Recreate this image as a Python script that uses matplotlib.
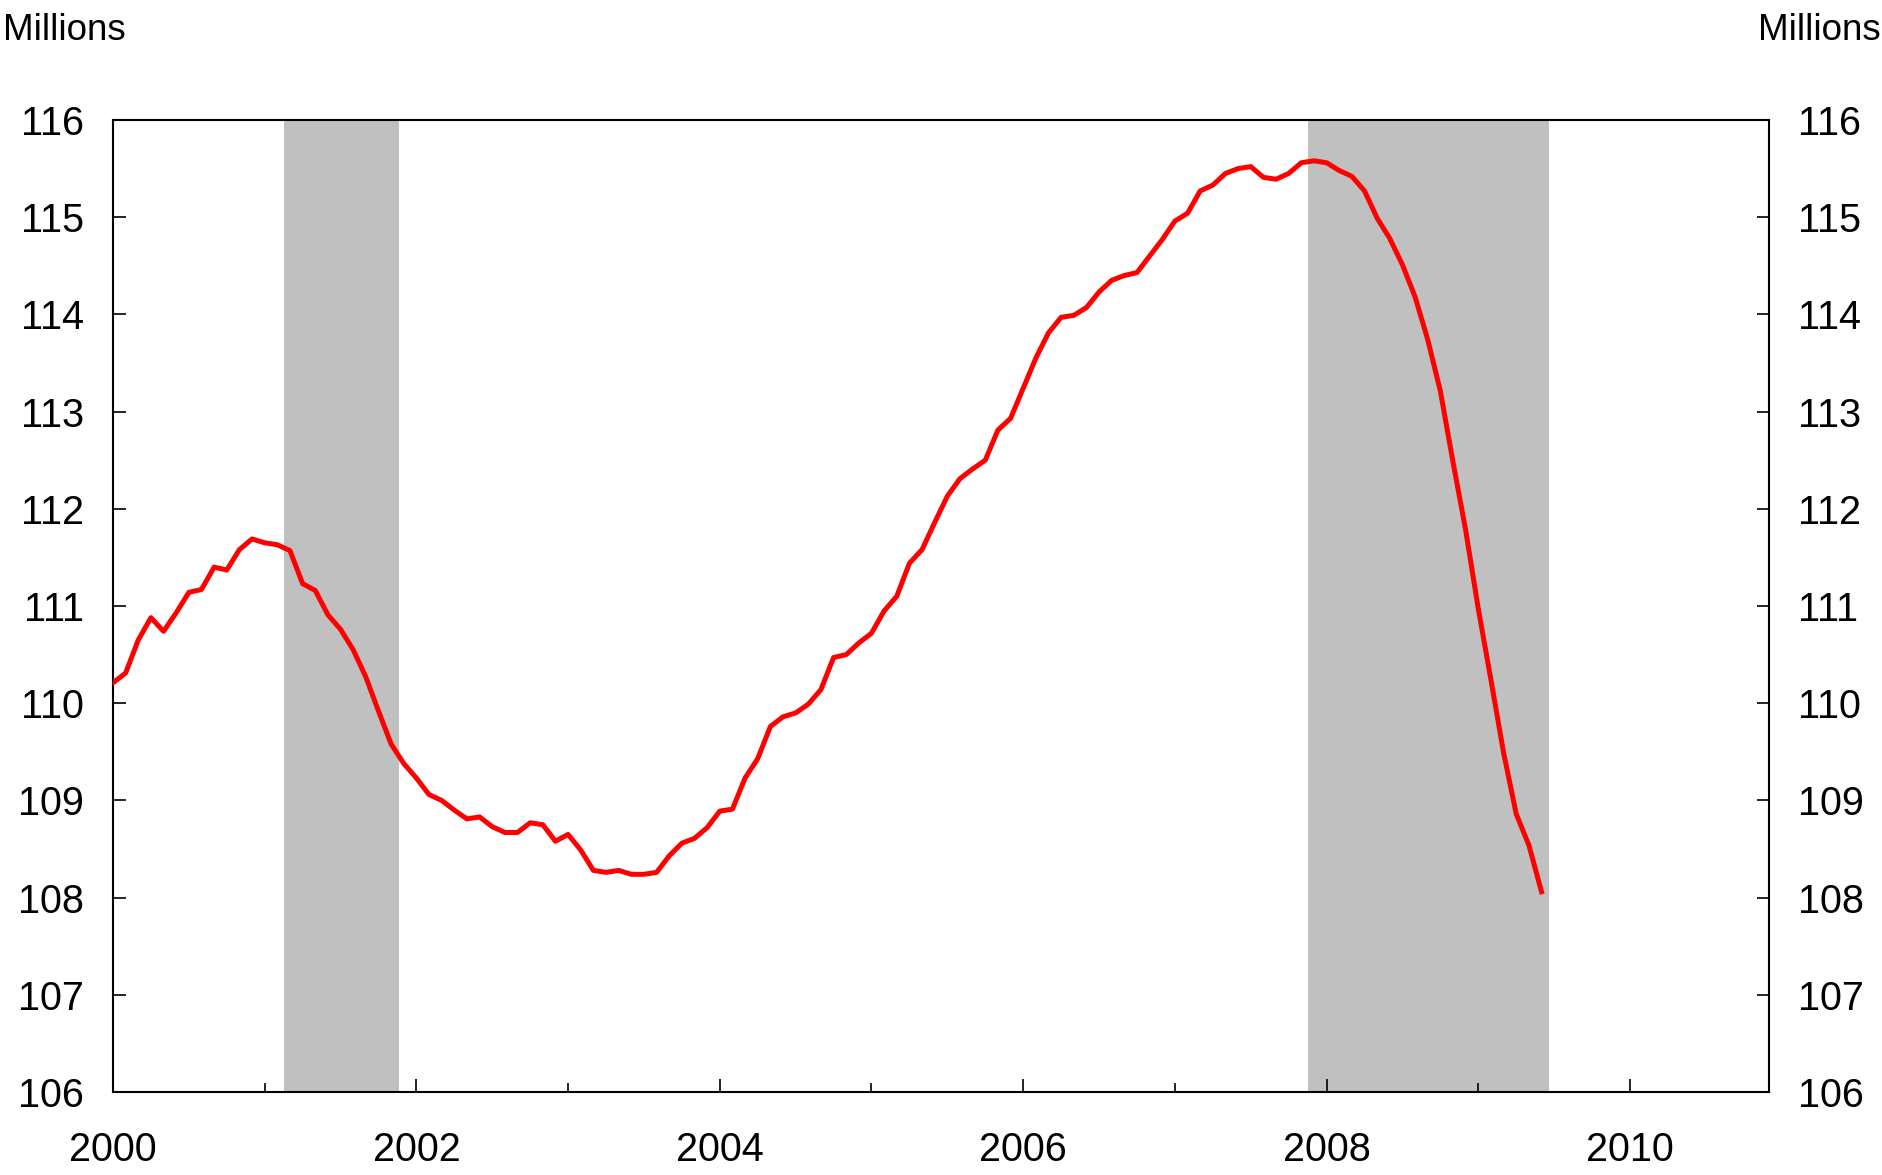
import matplotlib
matplotlib.use("Agg")
import matplotlib.pyplot as plt
import numpy as np

plt.rcParams['font.family'] = ['Liberation Sans', 'DejaVu Sans']

# monthly series, Jan 2000 - Jun 2009 (millions)
start_year = 2000
values = [
    110.21, 110.31, 110.65, 110.88, 110.74, 110.93, 111.14, 111.17, 111.40, 111.37, 111.58, 111.69,
    111.65, 111.63, 111.57, 111.23, 111.16, 110.91, 110.76, 110.55, 110.27, 109.92, 109.58, 109.38,
    109.23, 109.06, 109.00, 108.90, 108.81, 108.83, 108.73, 108.67, 108.67, 108.77, 108.75, 108.58,
    108.65, 108.49, 108.28, 108.26, 108.28, 108.24, 108.24, 108.26, 108.43, 108.56, 108.61, 108.72,
    108.89, 108.91, 109.23, 109.43, 109.76, 109.86, 109.90, 109.99, 110.14, 110.47, 110.50, 110.62,
    110.72, 110.95, 111.10, 111.44, 111.58, 111.86, 112.13, 112.31, 112.41, 112.50, 112.81, 112.93,
    113.24, 113.55, 113.81, 113.97, 113.99, 114.07, 114.23, 114.35, 114.40, 114.43, 114.60, 114.77,
    114.96, 115.04, 115.27, 115.33, 115.45, 115.50, 115.52, 115.41, 115.39, 115.45, 115.56, 115.58,
    115.56, 115.48, 115.42, 115.27, 114.99, 114.78, 114.51, 114.18, 113.74, 113.21, 112.48, 111.78,
    110.97, 110.24, 109.49, 108.86, 108.54, 108.06,
]

# recessions as (year, month) start and end
recessions = [((2001, 3), (2001, 11)), ((2007, 12), (2009, 6))]

year_ticks = list(range(2000, 2011, 2))
minor_years = list(range(2001, 2011, 2))
y_ticks = list(range(106, 117))

x = start_year + np.arange(len(values)) / 12

fig = plt.figure(figsize=(18.83, 11.75), dpi=100)
ax = fig.add_axes([0.0600, 0.0706, 0.8795, 0.8273])

for (y0, m0), (y1, m1) in recessions:
    a = y0 + (m0 - 1 - 0.5) / 12
    b = y1 + (m1 - 1 + 0.6) / 12
    ax.axvspan(a, b, color='#c0c0c0', lw=0, zorder=0)

ax.plot(x, values, color='#ff0000', lw=3.6, zorder=3)

ax.set_xlim(2000, 2000 + 131 / 12)
ax.set_ylim(106, 116)
ax.set_xticks(year_ticks)
ax.set_xticklabels([str(t) for t in year_ticks])
ax.set_xticks(minor_years, minor=True)
ax.set_yticks(y_ticks)

for s in ax.spines.values():
    s.set_linewidth(1.5)

ax.tick_params(axis='x', which='major', direction='in', length=9.5, width=1.2,
               labelsize=28.5, pad=28)
ax.tick_params(axis='x', which='minor', direction='in', length=6.5, width=1.2)
ax.tick_params(axis='y', which='major', direction='in', length=9, width=1.2,
               left=True, right=True, labelleft=True, labelright=True,
               labelsize=28.5, pad=21)

fig.text(3 / 1883, 1 - 30 / 1175, 'Millions', fontsize=26.5, ha='left', va='center')
fig.text(1881 / 1883, 1 - 30 / 1175, 'Millions', fontsize=26.5, ha='right', va='center')

fig.savefig('out.png', dpi=100)
